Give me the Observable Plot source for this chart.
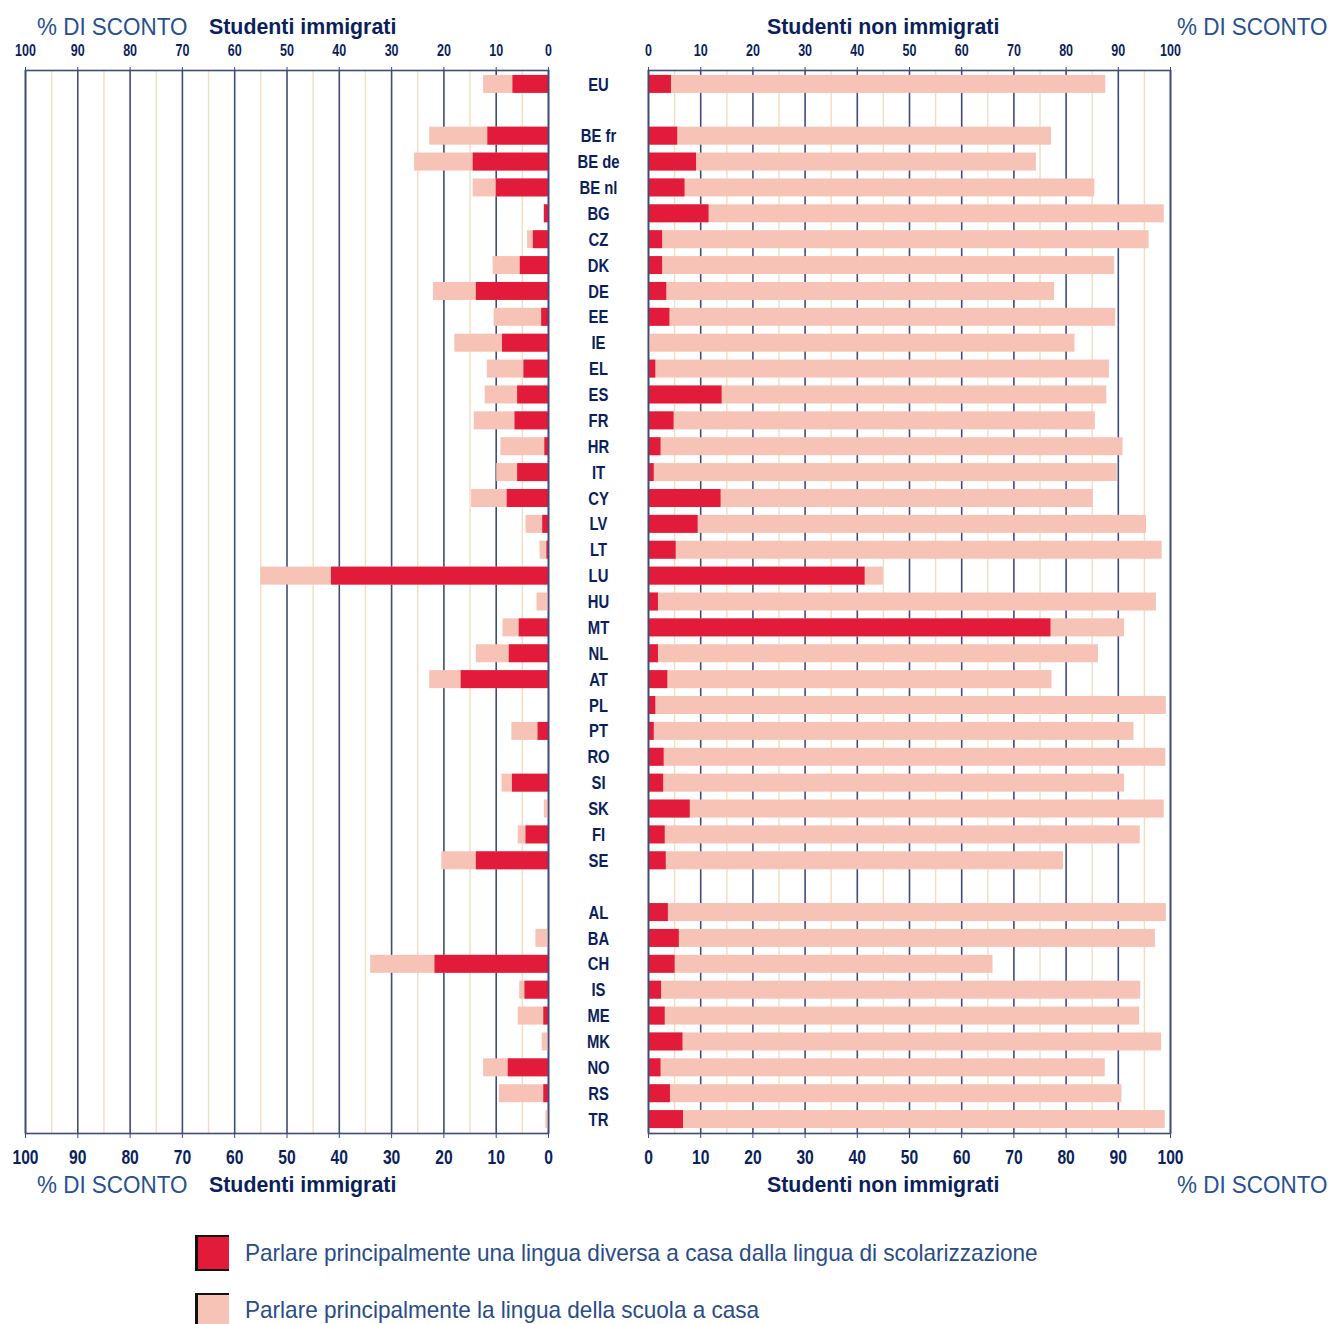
<!DOCTYPE html>
<html>
<head>
<meta charset="utf-8">
<script src="https://cdn.jsdelivr.net/npm/d3@7"></script>
<script src="https://cdn.jsdelivr.net/npm/@observablehq/plot@0.6"></script>
<style>
  html, body { margin: 0; padding: 0; background: #fff; }
  #wrap { position: relative; width: 1331px; height: 1324px; overflow: hidden; font-family: "Liberation Sans", Arial, sans-serif; }
  .lbl { position: absolute; white-space: nowrap; line-height: 26px; transform-origin: 0 50%; }
  .pct { font-size: 24px; color: #28508f; transform: scaleX(0.935); }
  .ttl { font-size: 22px; font-weight: bold; color: #0b1f5c; transform: scaleX(0.97); }
  .leg { font-size: 24px; color: #2a4c88; transform: scaleX(0.94); }
  .sw { position: absolute; width: 31px; height: 32px; border-left: 3px solid #111; border-top: 2px solid #111; border-bottom: 2px solid #111; }
  svg { position: absolute; top: 0; }
</style>
</head>
<body>
<div id="wrap">
  <div class="lbl pct" style="left:37px; top:14px;">% DI SCONTO</div>
  <div class="lbl ttl" style="left:209px; top:14px;">Studenti immigrati</div>
  <div class="lbl ttl" style="left:767px; top:14px;">Studenti non immigrati</div>
  <div class="lbl pct" style="left:1177px; top:14px;">% DI SCONTO</div>

  <div class="lbl pct" style="left:37px; top:1172px;">% DI SCONTO</div>
  <div class="lbl ttl" style="left:209px; top:1172px;">Studenti immigrati</div>
  <div class="lbl ttl" style="left:767px; top:1172px;">Studenti non immigrati</div>
  <div class="lbl pct" style="left:1177px; top:1172px;">% DI SCONTO</div>

  <div class="sw" style="left:195px; top:1235px; background:#e31b3b;"></div>
  <div class="lbl leg" style="left:245px; top:1240px;">Parlare principalmente una lingua diversa a casa dalla lingua di scolarizzazione</div>
  <div class="sw" style="left:195px; top:1293px; background:#f6c3b6;"></div>
  <div class="lbl leg" style="left:245px; top:1297px;">Parlare principalmente la lingua della scuola a casa</div>
</div>
<script>
const countries = ["EU","BE fr","BE de","BE nl","BG","CZ","DK","DE","EE","IE","EL","ES","FR","HR","IT","CY","LV","LT","LU","HU","MT","NL","AT","PL","PT","RO","SI","SK","FI","SE","AL","BA","CH","IS","ME","MK","NO","RS","TR"];
const rows = ["EU","_gap1","BE fr","BE de","BE nl","BG","CZ","DK","DE","EE","IE","EL","ES","FR","HR","IT","CY","LV","LT","LU","HU","MT","NL","AT","PL","PT","RO","SI","SK","FI","SE","_gap2","AL","BA","CH","IS","ME","MK","NO","RS","TR"];

// Immigrant students: red = other language at home, pink = school language at home
const immOther  = [6.8,11.6,14.4,10.0,0.8,2.9,5.4,13.8,1.3,8.8,4.7,5.9,6.4,0.7,5.9,7.9,1.1,0.3,41.5,0,5.6,7.5,16.7,0,2.0,0,6.9,0,4.3,13.8,0,0,21.7,4.5,0.9,0,7.7,0.9,0];
const immSchool = [12.4,22.7,25.6,14.4,0.8,4.0,10.6,22.0,10.4,17.9,11.7,12.1,14.2,9.1,9.9,14.7,4.3,1.6,55.0,2.2,8.7,13.8,22.7,0,7.0,0,8.9,0.8,5.8,20.4,0,2.4,34.0,5.5,5.8,1.2,12.4,9.4,0.5];
// Non-immigrant students
const nonOther  = [4.4,5.6,9.2,7.0,11.6,2.7,2.7,3.5,4.1,0,1.4,14.1,4.9,2.4,1.1,13.9,9.5,5.3,41.5,1.9,77.1,1.9,3.7,1.4,1.1,3.0,2.9,8.0,3.2,3.4,3.8,5.9,5.1,2.5,3.2,6.6,2.4,4.2,6.7];
const nonSchool = [87.6,77.2,74.3,85.5,98.8,95.9,89.3,77.8,89.5,81.7,88.3,87.8,85.6,90.9,89.8,85.2,95.4,98.4,45.0,97.3,91.2,86.2,77.3,99.2,93.0,99.1,91.2,98.8,94.2,79.5,99.2,97.1,66.0,94.3,94.1,98.3,87.5,90.7,99.0];

const majorTicks = [0,10,20,30,40,50,60,70,80,90,100];
const minorTicks = [5,15,25,35,45,55,65,75,85,95];

const RED = "#e31b3b", PINK = "#f6c3b6", NAVY = "#0b1f5c", GRID = "#3e4c78", TAN = "#f3dcc2";
const NARROW = '"Liberation Sans Narrow","Liberation Sans",Arial,sans-serif';

const imm = countries.map((c, i) => ({c, other: immOther[i], school: immSchool[i]}));
const non = countries.map((c, i) => ({c, other: nonOther[i], school: nonSchool[i]}));

const H = 1200, MT = 70, MB = H - 1133;
const yOpts = {domain: rows, paddingInner: 0.305, paddingOuter: 0.19};

function panel(data, reverse, width, ml, mr, withY) {
  const marks = [
    Plot.ruleX(minorTicks, {x: d => d, stroke: TAN, strokeWidth: 1.4}),
    Plot.ruleX(majorTicks, {x: d => d, stroke: GRID, strokeWidth: 1.6}),
    Plot.barX(data, {x1: d => 0, x2: "school", y: "c", fill: PINK}),
    Plot.barX(data, {x1: d => 0, x2: "other", y: "c", fill: RED}),
    Plot.frame({stroke: GRID, strokeWidth: 1.6}),
    Plot.axisX({anchor: "top", ticks: majorTicks, tickSize: 4, tickPadding: 11, fontSize: 16, fontWeight: "bold", fontFamily: NARROW, fill: NAVY, stroke: GRID, label: null}),
    Plot.axisX({anchor: "bottom", ticks: majorTicks, tickSize: 5, tickPadding: 11, fontSize: 20, fontWeight: "bold", fontFamily: NARROW, fill: NAVY, stroke: GRID, label: null})
  ];
  if (withY) {
    marks.push(Plot.axisY({anchor: "right", tickSize: 0, tickPadding: 50, textAnchor: "middle", fontSize: 19, fontWeight: "bold", fontFamily: NARROW, fill: NAVY, label: null, tickFormat: d => d.startsWith("_") ? "" : d}));
  } else {
    marks.push(Plot.axisY({anchor: "left", ticks: [], label: null}));
  }
  return Plot.plot({
    width, height: H, marginLeft: ml, marginRight: mr, marginTop: MT, marginBottom: MB,
    x: {domain: [0, 100], reverse},
    y: yOpts,
    style: {background: "transparent", overflow: "visible", color: NAVY},
    marks
  });
}

const left = panel(imm, true, 600, 25, 52, true);
left.style.left = "0px";
const right = panel(non, false, 731, 48, 161, false);
right.style.left = "600px";
const wrap = document.getElementById("wrap");
wrap.appendChild(left);
wrap.appendChild(right);

// condense the bold axis lettering, as in the original narrow typeface
for (const svg of [left, right]) {
  svg.querySelectorAll('g[aria-label="x-axis tick label"] text, g[aria-label="y-axis tick label"] text').forEach(t => {
    const w = t.getComputedTextLength();
    if (w > 0) {
      t.setAttribute("textLength", (w * 0.78).toFixed(1));
      t.setAttribute("lengthAdjust", "spacingAndGlyphs");
    }
  });
}
</script>
</body>
</html>
